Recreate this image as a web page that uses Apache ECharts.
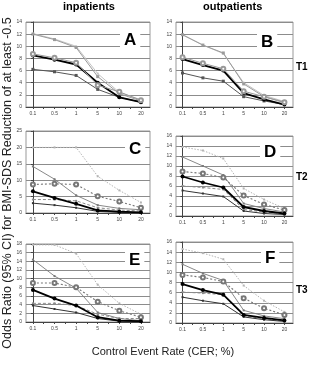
<!DOCTYPE html>
<html><head><meta charset="utf-8">
<script src="https://cdn.jsdelivr.net/npm/echarts@6/dist/echarts.min.js"></script>
<style>html,body{margin:0;padding:0;background:#fff}#c{width:321px;height:373px}</style>
</head><body><div id="c"></div>
<script>
// Control Event Rate categories (%)
const categories = ['0.1', '0.5', '1', '5', '10', '20'];

// Panel A (inpatients, T1)
const A_upper2 = [12.1, 11.2, 10.0, 5.5, 2.4, 1.2];
const A_upper  = [12.0, 11.1, 9.8, 5.0, 2.2, 1.0];
const A_open   = [8.75, 8.1, 7.3, 3.6, 2.5, 1.1];
const A_black  = [8.5, 7.8, 7.0, 4.0, 1.6, 0.8];
const A_lower  = [6.2, 5.8, 5.2, 2.9, 1.6, 0.8];
// Panel B (outpatients, T1)
const B_upper2 = [11.9, 10.2, 8.8, 4.0, 1.9, 0.9];
const B_upper  = [11.9, 10.2, 8.9, 3.8, 1.7, 0.7];
const B_open   = [8.2, 7.2, 6.3, 2.6, 1.7, 0.8];
const B_black  = [7.9, 6.9, 6.0, 2.3, 1.25, 0.4];
const B_lower  = [5.6, 4.8, 4.25, 1.7, 1.0, 0.4];
// Panel C (inpatients, T2)
const C_dotUp  = [20, 20, 20, 11.2, 6.9, 3.2];
const C_thinUp = [14.2, 10.3, 5.4, 2.4, 1.4, 1.0];
const C_open   = [8.7, 8.9, 8.7, 5.1, 3.5, 1.6];
const C_black  = [6.6, 4.6, 2.8, 0.8, 0.4, 0.2];
const C_dashLo = [4.1, 4.1, 3.7, 1.6, 0.9, 0.6];
const C_thinLo = [3.0, 2.4, 1.6, 0.5, 0.2, 0.1];
// Panel D (outpatients, T2)
const D_dotUp  = [13.8, 13.1, 11.5, 5.5, 3.3, 1.5];
const D_thinUp = [11.8, 10.0, 8.2, 2.5, 1.5, 0.8];
const D_open   = [8.9, 8.5, 7.7, 4.1, 2.3, 1.2];
const D_black  = [7.9, 6.7, 5.7, 1.8, 1.0, 0.5];
const D_dashLo = [6.0, 5.7, 5.3, 1.3, 0.8, 0.5];
const D_thinLo = [5.1, 4.5, 3.9, 1.0, 0.5, 0.3];
// Panel E (inpatients, T3)
const E_dotUp  = [17.8, 17.8, 15.8, 8.6, 4.3, 1.8];
const E_thinUp = [14.4, 10.6, 7.8, 2.2, 0.8, 0.3];
const E_open   = [9.0, 9.0, 8.0, 4.7, 2.6, 1.1];
const E_black  = [7.4, 5.4, 3.8, 1.1, 0.3, 0.2];
const E_dashLo = [4.3, 4.3, 3.8, 1.8, 0.8, 0.8];
const E_thinLo = [3.8, 3.0, 2.2, 0.8, 0.2, 0.1];
// Panel F (outpatients, T3)
const F_dotUp  = [14.6, 13.8, 12.6, 7.4, 4.4, 2.2];
const F_thinUp = [11.6, 9.8, 8.4, 2.5, 1.4, 0.85];
const F_open   = [9.5, 9.0, 8.2, 4.9, 2.9, 1.6];
const F_black  = [7.7, 6.5, 5.6, 1.6, 1.0, 0.5];
const F_dashLo = [6.1, 5.9, 5.6, 1.4, 0.85, 0.4];
const F_thinLo = [5.1, 4.4, 3.8, 1.2, 0.65, 0.3];

// y-axis ranges per panel
const yMax = [14, 14, 25, 16, 18, 16];
const yStep = [2, 2, 5, 2, 2, 2];
const panelLetters = ['A', 'B', 'C', 'D', 'E', 'F'];

const styles = {
  upperAB: {lc: '#9a9a9a', lt: 'solid', lw: 1, sym: 'rect', ss: 3, bw: 0},
  upper2AB: {lc: '#c4c4c4', lt: 'solid', lw: 1, sym: 'rect', ss: 2, bw: 0},
  openAB: {lc: '#999', lt: 'solid', lw: 1, sym: 'emptyCircle', ss: 4, bw: 0.7},
  lowerAB: {lc: '#555', lt: 'solid', lw: 1, sym: 'rect', ss: 3, bw: 0},
  dotUp: {lc: '#b4b4b4', lt: [1.5, 1.5], lw: 1, sym: 'rect', ss: 2, bw: 0},
  thinUp: {lc: '#7a7a7a', lt: 'solid', lw: 0.9, sym: 'rect', ss: 2, bw: 0},
  open: {lc: '#777', lt: [2, 2], lw: 1.1, sym: 'emptyCircle', ss: 4, bw: 0.7},
  black: {lc: '#000', lt: 'solid', lw: 1.8, sym: 'circle', ss: 4, bw: 0},
  dashLo: {lc: '#8a8a8a', lt: [3, 2], lw: 1, sym: 'rect', ss: 2, bw: 0},
  thinLo: {lc: '#333', lt: 'solid', lw: 1, sym: 'rect', ss: 2, bw: 0}
};

const panelSeries = [
  [[A_upper2, 'upper2AB'], [A_upper, 'upperAB'], [A_lower, 'lowerAB'], [A_black, 'black'], [A_open, 'openAB']],
  [[B_upper2, 'upper2AB'], [B_upper, 'upperAB'], [B_lower, 'lowerAB'], [B_black, 'black'], [B_open, 'openAB']],
  [[C_dotUp, 'dotUp'], [C_thinUp, 'thinUp'], [C_dashLo, 'dashLo'], [C_thinLo, 'thinLo'], [C_open, 'open'], [C_black, 'black']],
  [[D_dotUp, 'dotUp'], [D_thinUp, 'thinUp'], [D_dashLo, 'dashLo'], [D_thinLo, 'thinLo'], [D_open, 'open'], [D_black, 'black']],
  [[E_dotUp, 'dotUp'], [E_thinUp, 'thinUp'], [E_dashLo, 'dashLo'], [E_thinLo, 'thinLo'], [E_open, 'open'], [E_black, 'black']],
  [[F_dotUp, 'dotUp'], [F_thinUp, 'thinUp'], [F_dashLo, 'dashLo'], [F_thinLo, 'thinLo'], [F_open, 'open'], [F_black, 'black']]
];

// grid boxes [left, top, width, height]
const boxes = [
  [26, 22, 124, 85], [176, 22, 117, 85],
  [26, 131, 124, 82], [176, 136, 117, 80],
  [26, 244, 124, 78], [176, 242, 117, 81]
];
const letterPos = [[120, 31], [257, 33], [125, 140], [260, 143], [125, 251], [261, 249]];

const FONT = '"Liberation Sans", Arial, sans-serif';
const grids = [], xAxes = [], yAxes = [], series = [], titles = [];
boxes.forEach((b, i) => {
  grids.push({left: b[0], top: b[1], width: b[2], height: b[3], show: true, borderColor: '#999', borderWidth: 1, backgroundColor: 'transparent'});
  xAxes.push({
    type: 'value', gridIndex: i, min: -0.32, max: 5.42,
    axisLine: {show: true, lineStyle: {color: '#444', width: 1}},
    axisTick: {show: true, length: 2, lineStyle: {color: '#444'}, customValues: [0, 0.5, 1, 1.5, 2, 2.5, 3, 3.5, 4, 4.5, 5]},
    axisLabel: {show: true, customValues: [0, 1, 2, 3, 4, 5], fontSize: 5, color: '#444', margin: 4, fontFamily: FONT,
      formatter: v => categories[Math.round(v)]},
    splitLine: {show: false}
  });
  yAxes.push({
    type: 'value', gridIndex: i, min: 0, max: yMax[i], interval: yStep[i],
    axisLine: {show: true, lineStyle: {color: '#444', width: 1}},
    axisTick: {show: true, length: 2, lineStyle: {color: '#444'}},
    axisLabel: {fontSize: 5, color: '#444', margin: 4, fontFamily: FONT},
    splitLine: {show: true, lineStyle: {color: '#8c8c8c', width: 1}}
  });
  panelSeries[i].forEach(([arr, key]) => {
    const s = styles[key];
    series.push({
      type: 'line', xAxisIndex: i, yAxisIndex: i,
      data: arr.map((v, k) => [k, v]),
      symbol: s.sym, symbolSize: s.ss, showSymbol: true, animation: false, silent: true,
      lineStyle: {color: s.lc, type: s.lt, width: s.lw},
      itemStyle: {color: s.lc, borderColor: s.lc, borderWidth: s.bw}
    });
  });
  titles.push({
    text: panelLetters[i], left: letterPos[i][0], top: letterPos[i][1],
    backgroundColor: '#fff', padding: [1, 4, 1, 4],
    textStyle: {fontSize: 17, fontWeight: 'bold', color: '#000', fontFamily: FONT}
  });
});

const chart = echarts.init(document.getElementById('c'), null, {renderer: 'canvas'});
chart.setOption({
  animation: false,
  backgroundColor: '#fff',
  title: titles,
  grid: grids, xAxis: xAxes, yAxis: yAxes, series: series,
  graphic: [
    {type: 'text', left: 63, top: 1, style: {text: 'inpatients', font: 'bold 11px ' + FONT, fill: '#000'}},
    {type: 'text', left: 203, top: 1, style: {text: 'outpatients', font: 'bold 11px ' + FONT, fill: '#000'}},
    {type: 'text', left: 296, top: 62, style: {text: 'T1', font: 'bold 10px ' + FONT, fill: '#000'}},
    {type: 'text', left: 296, top: 172, style: {text: 'T2', font: 'bold 10px ' + FONT, fill: '#000'}},
    {type: 'text', left: 296, top: 285, style: {text: 'T3', font: 'bold 10px ' + FONT, fill: '#000'}},
    {type: 'text', x: 163, y: 352, style: {text: 'Control Event Rate (CER; %)', font: '11px ' + FONT, fill: '#222', align: 'center', verticalAlign: 'middle'}},
    {type: 'text', x: 8, y: 183, rotation: Math.PI / 2, style: {text: 'Odds Ratio (95% CI) for BMI-SDS Reduction of at least -0.5', font: '12.5px ' + FONT, fill: '#222', align: 'center', verticalAlign: 'middle'}}
  ]
});
</script></body></html>
